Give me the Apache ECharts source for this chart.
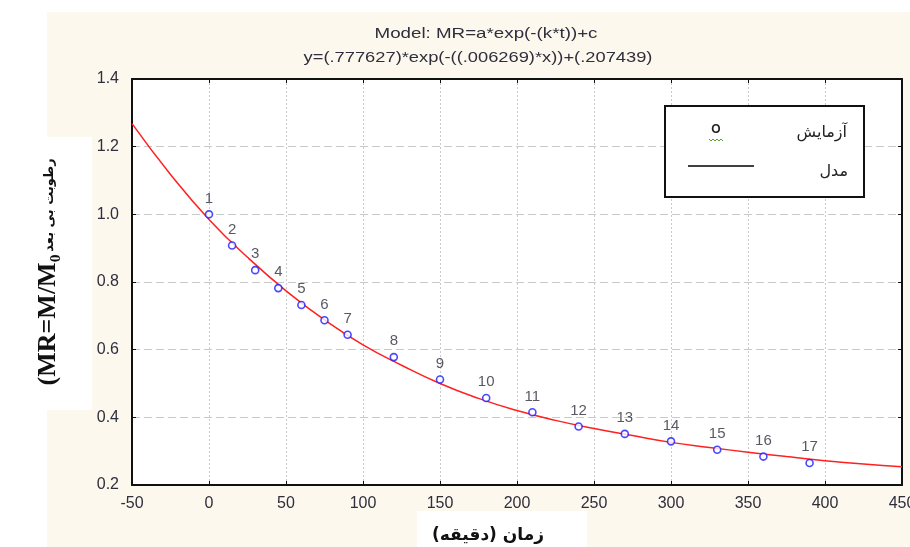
<!DOCTYPE html>
<html>
<head>
<meta charset="utf-8">
<script src="https://cdn.jsdelivr.net/npm/echarts@6/dist/echarts.min.js"></script>
<style>html,body{margin:0;padding:0;background:#fff}#c{width:910px;height:547px}</style>
</head>
<body>
<div id="c"></div>
<script>
// ---- data ----
const pointLabels = ['1','2','3','4','5','6','7','8','9','10','11','12','13','14','15','16','17'];
const timeMin = [0,15,30,45,60,75,90,120,150,180,210,240,270,300,330,360,390];
const mrObserved = [1.0,0.908,0.835,0.782,0.732,0.687,0.644,0.578,0.512,0.457,0.415,0.373,0.351,0.329,0.304,0.284,0.265];
const curveX = [-50,-25,0,25,50,75,100,125,150,175,200,225,250,275,300,325,350,375,400,425,450];
const curveY = [1.268,1.118,0.985,0.873,0.774,0.688,0.614,0.554,0.500,0.456,0.420,0.391,0.367,0.346,0.326,0.311,0.297,0.284,0.272,0.262,0.254];
const xTicks = [-50,0,50,100,150,200,250,300,350,400,450];
const yTicks = [0.2,0.4,0.6,0.8,1.0,1.2,1.4];
const titleLine1 = 'Model: MR=a*exp(-(k*t))+c';
const titleLine2 = 'y=(.777627)*exp(-((.006269)*x))+(.207439)';
const xName = 'زمان (دقیقه)';
const yNameLatin = '(MR=M/M₀';
const yNameFa = 'رطوبت بی بعد';
const legendObs = 'آزمایش';
const legendModel = 'مدل';

const chart = echarts.init(document.getElementById('c'));
const tickColor = '#2e2e3c';
const lab = () => ({color: tickColor, fontFamily: 'Liberation Sans, Arial', fontSize: 16});
const blackLine = {show: true, onZero: false, lineStyle: {color: '#111', width: 2}};
const tick = {show: true, inside: true, length: 4, lineStyle: {color: '#111'}};

chart.setOption({
  backgroundColor: '#ffffff',
  animation: false,
  graphic: [
    {type: 'rect', z: -10, shape: {x: 47, y: 12, width: 863, height: 535}, style: {fill: '#fdf8ee'}},
    {type: 'rect', z: -5, shape: {x: 9, y: 137, width: 83, height: 273}, style: {fill: '#ffffff'}},
    {type: 'rect', z: -5, shape: {x: 417, y: 511, width: 170, height: 36}, style: {fill: '#ffffff'}},
    {type: 'text', x: 486, y: 34, scaleX: 1.25, style: {text: titleLine1, fill: '#2e2e3c', font: '15px "Liberation Sans", Arial', textAlign: 'center', textVerticalAlign: 'middle'}},
    {type: 'text', x: 478, y: 58, scaleX: 1.22, style: {text: titleLine2, fill: '#2e2e3c', font: '15px "Liberation Sans", Arial', textAlign: 'center', textVerticalAlign: 'middle'}},
    {type: 'text', x: 488, y: 536, style: {text: xName, fill: '#111', font: 'bold 17px "DejaVu Sans"', textAlign: 'center', textVerticalAlign: 'middle'}},
    {type: 'text', x: 48, y: 320, rotation: Math.PI / 2, style: {text: yNameLatin, fill: '#111', font: 'bold 26px "Liberation Serif"', textAlign: 'center', textVerticalAlign: 'middle'}},
    {type: 'text', x: 50, y: 205, rotation: Math.PI / 2, style: {text: yNameFa, fill: '#111', font: 'bold 13px "DejaVu Sans"', textAlign: 'center', textVerticalAlign: 'middle'}},
    // legend box
    {type: 'rect', z: 50, shape: {x: 665, y: 106, width: 199, height: 91}, style: {fill: '#ffffff', stroke: '#111', lineWidth: 2}},
    {type: 'text', z: 51, x: 847, y: 133, style: {text: legendObs, fill: '#222', font: '16px "DejaVu Sans"', textAlign: 'right', textVerticalAlign: 'middle'}},
    {type: 'text', z: 51, x: 716, y: 130, style: {text: 'O', fill: '#222', font: 'bold 12px "Liberation Sans"', textAlign: 'center', textVerticalAlign: 'middle'}},
    {type: 'polyline', z: 51, shape: {points: [[709,139],[711,141],[713,139],[715,141],[717,139],[719,141],[721,139],[723,141]]}, style: {stroke: '#5aa02c', lineWidth: 1, fill: null}},
    {type: 'line', z: 51, shape: {x1: 688, y1: 166, x2: 754, y2: 166}, style: {stroke: '#000', lineWidth: 1.5}},
    {type: 'text', z: 51, x: 848, y: 172, style: {text: legendModel, fill: '#222', font: '16px "DejaVu Sans"', textAlign: 'right', textVerticalAlign: 'middle'}}
  ],
  grid: {left: 132, top: 79, right: 8, bottom: 62, show: true, backgroundColor: '#ffffff', borderWidth: 0, containLabel: false, outerBoundsMode: 'none'},
  xAxis: [{
    type: 'value', min: xTicks[0], max: xTicks[xTicks.length - 1], interval: 50,
    axisLine: blackLine, axisTick: tick,
    axisLabel: Object.assign(lab(), {margin: 11}),
    splitLine: {show: true, lineStyle: {color: '#c9c9c9', type: [2, 2], width: 1}}
  }, {
    type: 'value', position: 'top', min: xTicks[0], max: xTicks[xTicks.length - 1], interval: 50,
    axisLine: blackLine, axisLabel: {show: false}, splitLine: {show: false}, axisTick: tick
  }],
  yAxis: [{
    type: 'value', min: yTicks[0], max: yTicks[yTicks.length - 1], interval: 0.2,
    axisLine: blackLine, axisTick: tick,
    axisLabel: Object.assign(lab(), {margin: 13, formatter: (v) => v.toFixed(1)}),
    splitLine: {show: true, lineStyle: {color: '#c9c9c9', type: [8, 4], width: 1}}
  }, {
    type: 'value', position: 'right', min: yTicks[0], max: yTicks[yTicks.length - 1], interval: 0.2,
    axisLine: blackLine, axisLabel: {show: false}, splitLine: {show: false}, axisTick: tick
  }],
  series: [{
    type: 'line', name: 'model', data: curveX.map((x, i) => [x, curveY[i]]),
    smooth: true, showSymbol: false, symbol: 'none',
    lineStyle: {color: '#ff2020', width: 1.5}, z: 2
  }, {
    type: 'scatter', name: 'obs', data: timeMin.map((x, i) => [x, mrObserved[i]]),
    symbol: 'circle', symbolSize: 7,
    itemStyle: {color: '#ffffff', borderColor: '#1a1aff', borderWidth: 1.6},
    label: {show: true, position: 'top', distance: 4, color: '#2e2e3c', fontFamily: 'Liberation Sans, Arial', fontSize: 15,
      formatter: (p) => pointLabels[p.dataIndex]},
    z: 3
  }]
});
</script>
</body>
</html>
